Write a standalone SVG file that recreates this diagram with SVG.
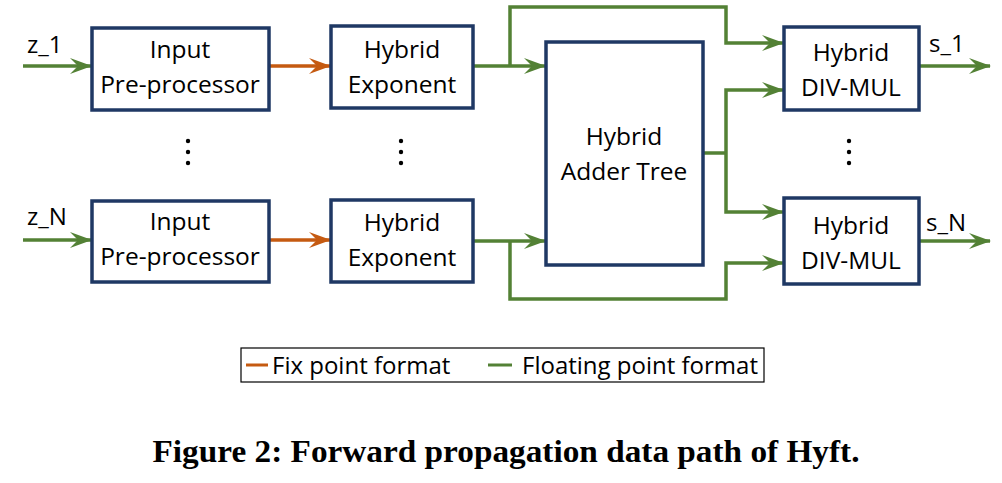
<svg xmlns="http://www.w3.org/2000/svg" width="1002" height="483" viewBox="0 0 1002 483">
<style>
.box{fill:#fff;stroke:#1f3864;stroke-width:3.5}
.t{font-family:"Open Sans","Noto Sans",sans-serif;font-size:24.5px;fill:#000;text-anchor:middle}
.lbl{font-family:"Open Sans","Noto Sans",sans-serif;font-size:24px;fill:#000}
.g{fill:none;stroke:#538135;stroke-width:3.5}
.o{fill:none;stroke:#c55a11;stroke-width:3.5}
.dot{fill:#000}
</style>
<defs>
<marker id="ag" markerUnits="userSpaceOnUse" markerWidth="22" markerHeight="18" viewBox="0 0 22 18" refX="21" refY="9" orient="auto">
<path d="M0,1 L22,9 L0,17 L8,9 z" fill="#538135"/>
</marker>
<marker id="ao" markerUnits="userSpaceOnUse" markerWidth="22" markerHeight="18" viewBox="0 0 22 18" refX="21" refY="9" orient="auto">
<path d="M0,1 L22,9 L0,17 L8,9 z" fill="#c55a11"/>
</marker>
</defs>
<rect width="1002" height="483" fill="#fff"/>
<g id="connectors">
<line class="g" x1="23" y1="66" x2="91" y2="66" marker-end="url(#ag)"/>
<line class="g" x1="23" y1="240" x2="91" y2="240" marker-end="url(#ag)"/>
<line class="o" x1="269" y1="66" x2="330" y2="66" marker-end="url(#ao)"/>
<line class="o" x1="269" y1="240" x2="330" y2="240" marker-end="url(#ao)"/>
<line class="g" x1="474" y1="66" x2="545" y2="66" marker-end="url(#ag)"/>
<line class="g" x1="474" y1="241" x2="545" y2="241" marker-end="url(#ag)"/>
<polyline class="g" points="510,66 510,7 726,7 726,43 783,43" marker-end="url(#ag)"/>
<polyline class="g" points="510,241 510,299 726,299 726,263 783,263" marker-end="url(#ag)"/>
<polyline class="g" points="703,153 726,153"/>
<polyline class="g" points="726,153 726,90 783,90" marker-end="url(#ag)"/>
<polyline class="g" points="726,153 726,212 783,212" marker-end="url(#ag)"/>
<line class="g" x1="919" y1="66" x2="990" y2="66" marker-end="url(#ag)"/>
<line class="g" x1="919" y1="241" x2="990" y2="241" marker-end="url(#ag)"/>
</g>
<g id="in1"><rect class="box" x="92" y="28" width="177" height="82"/><text class="t" x="180" y="58">Input</text><text class="t" x="180" y="93">Pre-processor</text></g>
<g id="inN"><rect class="box" x="92" y="201" width="177" height="81"/><text class="t" x="180" y="230">Input</text><text class="t" x="180" y="265">Pre-processor</text></g>
<g id="exp1"><rect class="box" x="331" y="26" width="142" height="82"/><text class="t" x="402" y="58">Hybrid</text><text class="t" x="402" y="93">Exponent</text></g>
<g id="expN"><rect class="box" x="331" y="200" width="142" height="82"/><text class="t" x="402" y="231">Hybrid</text><text class="t" x="402" y="266">Exponent</text></g>
<g id="adder"><rect class="box" x="546" y="42" width="157" height="223"/><text class="t" x="624" y="145">Hybrid</text><text class="t" x="624" y="180">Adder Tree</text></g>
<g id="dm1"><rect class="box" x="784" y="27" width="135" height="83"/><text class="t" x="851" y="61">Hybrid</text><text class="t" x="851" y="96">DIV-MUL</text></g>
<g id="dmN"><rect class="box" x="784" y="198" width="135" height="86"/><text class="t" x="851" y="234">Hybrid</text><text class="t" x="851" y="269">DIV-MUL</text></g>
<g id="labels">
<text class="lbl" x="27" y="53">z_1</text>
<text class="lbl" x="27" y="225">z_N</text>
<text class="lbl" x="929" y="52">s_1</text>
<text class="lbl" x="926" y="231">s_N</text>
</g>
<g id="dots">
<circle class="dot" cx="188" cy="141" r="2.2"/><circle class="dot" cx="188" cy="152" r="2.2"/><circle class="dot" cx="188" cy="163" r="2.2"/>
<circle class="dot" cx="401" cy="141" r="2.2"/><circle class="dot" cx="401" cy="152" r="2.2"/><circle class="dot" cx="401" cy="163" r="2.2"/>
<circle class="dot" cx="849" cy="141" r="2.2"/><circle class="dot" cx="849" cy="152" r="2.2"/><circle class="dot" cx="849" cy="163" r="2.2"/>
</g>
<g id="legend">
<rect x="241" y="348" width="523" height="34" fill="#fff" stroke="#000" stroke-width="1.2"/>
<line x1="246" y1="365" x2="268" y2="365" stroke="#c55a11" stroke-width="3"/>
<text class="lbl" x="272" y="374">Fix point format</text>
<line x1="488" y1="365" x2="512" y2="365" stroke="#538135" stroke-width="3"/>
<text class="lbl" x="522" y="374">Floating point format</text>
</g>
<text x="506" y="462" text-anchor="middle" font-family="Liberation Serif, serif" font-weight="bold" font-size="32" textLength="707" lengthAdjust="spacingAndGlyphs" fill="#000">Figure 2: Forward propagation data path of Hyft.</text>
</svg>
